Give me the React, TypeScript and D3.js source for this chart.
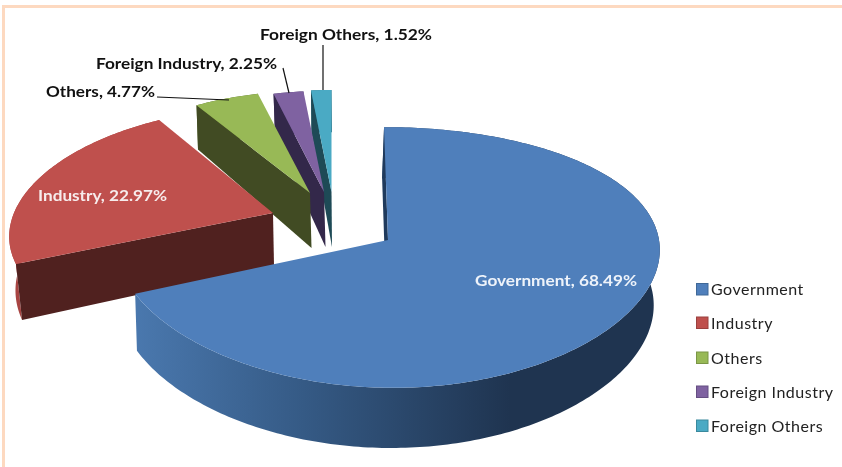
import React from "react";
import * as d3 from "d3";

const categories = ["Government", "Industry", "Others", "Foreign Industry", "Foreign Others"];
const shares = [68.49, 22.97, 4.77, 2.25, 1.52];
const labels = ["Government, 68.49%", "Industry, 22.97%", "Others, 4.77%", "Foreign Industry, 2.25%", "Foreign Others, 1.52%"];
const topColors = ["#4f7fbb", "#bf504d", "#98b956", "#7f62a1", "#4aaac4"];
const faceColors = ["#1f3a5c", "#50211f", "#414b23", "#33284a", "#1e4a56"];
const rimColors = ["url(#govRim)", "#a84442", "#59692f", "#4a3a68", "#2a6a7c"];
const legendEdge = ["#3f6897", "#9a403e", "#7a9546", "#654e82", "#3a899d"];

// Per-slice projection: apex, horizontal / vertical radii, perspective, skew, extrusion
const geometry = [
  { ax: 388, ay: 240, a: 271, kx: 0.06, A: 128, k: 0.134, skew: 0.035, sx: 0.985, dx: -2, d0: 55, d1: 0.035 },
  { ax: 273, ay: 213, a: 259, kx: 0.19, A: 121, k: 0.139, skew: 0, sx: 0.98, dx: 1, d0: 52, d1: 0.08 },
  { ax: 310, ay: 193, a: 222, kx: 0, A: 102, k: 0, skew: 0, sx: 1, dx: 1.5, d0: 55, d1: 0.125 },
  { ax: 324, ay: 192, a: 215, kx: 0, A: 101, k: 0, skew: 0, sx: 1, dx: 1.5, d0: 55, d1: 0.125 },
  { ax: 331.5, ay: 192, a: 215, kx: 0, A: 102, k: 0, skew: 0, sx: 1, dx: 0.5, d0: 55, d1: 0.125 },
];
const labelBoxes = [
  { x: 475, y: 280, w: 162, fill: "#eef3fa" },
  { x: 38, y: 195, w: 129, fill: "#f7ecec" },
  { x: 46, y: 91, w: 109, fill: "#111111" },
  { x: 96, y: 63, w: 181, fill: "#111111" },
  { x: 260, y: 34, w: 172, fill: "#111111" },
];
const leaders = [
  [[157, 97], [229, 100]],
  [[283, 68], [289, 93]],
  [[323, 45], [323, 90]],
];
const legendRows = [289.5, 323, 358, 392, 426];

type G = (typeof geometry)[number];
type P = [number, number];

const topPoint = (g: G, angle: number, r = 1): P => {
  const u = Math.sin(angle) * r;
  const v = -Math.cos(angle) * r;
  const yRel = (g.A * v) / (1 - g.k * v);
  const xRel = (g.a * u) / (1 - g.kx * v) + g.skew * yRel;
  return [g.ax + xRel, g.ay + yRel];
};
const lowPoint = (g: G, p: P): P => {
  const yRel = p[1] - g.ay;
  return [g.ax + g.dx + (p[0] - g.ax) * g.sx, p[1] + g.d0 + g.d1 * yRel];
};

const pieGen = d3.pie<number>().sort(null).value((d) => d);
const line = d3.line<P>().x((d) => d[0]).y((d) => d[1]);
const font = "Lato, 'Open Sans', sans-serif";

export default function App() {
  const arcs = pieGen(shares);
  const order = d3.range(arcs.length).reverse();
  return (
    <svg
      width={842}
      height={467}
      viewBox="0 0 842 467"
      style={{ position: "fixed", left: 0, top: 0, background: "#ffffff", filter: "blur(0.35px)" }}
    >
      <defs>
        <linearGradient id="govRim" gradientUnits="userSpaceOnUse" x1={135} y1={0} x2={510} y2={0}>
          <stop offset="0" stopColor="#4a78ae" />
          <stop offset="0.45" stopColor="#355a85" />
          <stop offset="1" stopColor="#1f3450" />
        </linearGradient>
      </defs>
      <path d="M3.5 467V6.5H842" fill="none" stroke="#fdd9c0" strokeWidth={3} />
      {order.map((i) => {
        const g = geometry[i];
        const arc = arcs[i];
        const steps = Math.max(6, Math.ceil((arc.endAngle - arc.startAngle) * 60));
        const top: P[] = d3.range(steps + 1).map((s) =>
          topPoint(g, arc.startAngle + ((arc.endAngle - arc.startAngle) * s) / steps)
        );
        const low = top.map((p) => lowPoint(g, p));
        const apex: P = [g.ax, g.ay];
        const apexLow = lowPoint(g, apex);
        return (
          <g key={categories[i]}>
            <path d={line([...top, ...[...low].reverse()]) + "Z"} fill={rimColors[i]} />
            <path d={line([top[0], apex, apexLow, low[0]]) + "Z"} fill={faceColors[i]} />
            <path d={line([apex, ...top]) + "Z"} fill={topColors[i]} />
          </g>
        );
      })}
      {leaders.map((l, i) => (
        <path key={i} d={line(l as P[]) as string} fill="none" stroke="#111" strokeWidth={1.2} />
      ))}
      {labels.map((t, i) => {
        const b = labelBoxes[i];
        return (
          <text
            key={t}
            x={b.x}
            y={b.y}
            dy="0.35em"
            textLength={b.w}
            lengthAdjust="spacingAndGlyphs"
            fontFamily={font}
            fontWeight={700}
            fontSize={16}
            fill={b.fill}
          >
            {t}
          </text>
        );
      })}
      {categories.map((c, i) => (
        <g key={c}>
          <rect x={696.5} y={legendRows[i] - 6} width={11.5} height={11.5} fill={topColors[i]} stroke={legendEdge[i]} strokeWidth={1} />
          <text x={711} y={legendRows[i]} dy="0.35em" fontFamily={font} fontSize={16} letterSpacing={0.5} fill="#222">
            {c}
          </text>
        </g>
      ))}
    </svg>
  );
}
